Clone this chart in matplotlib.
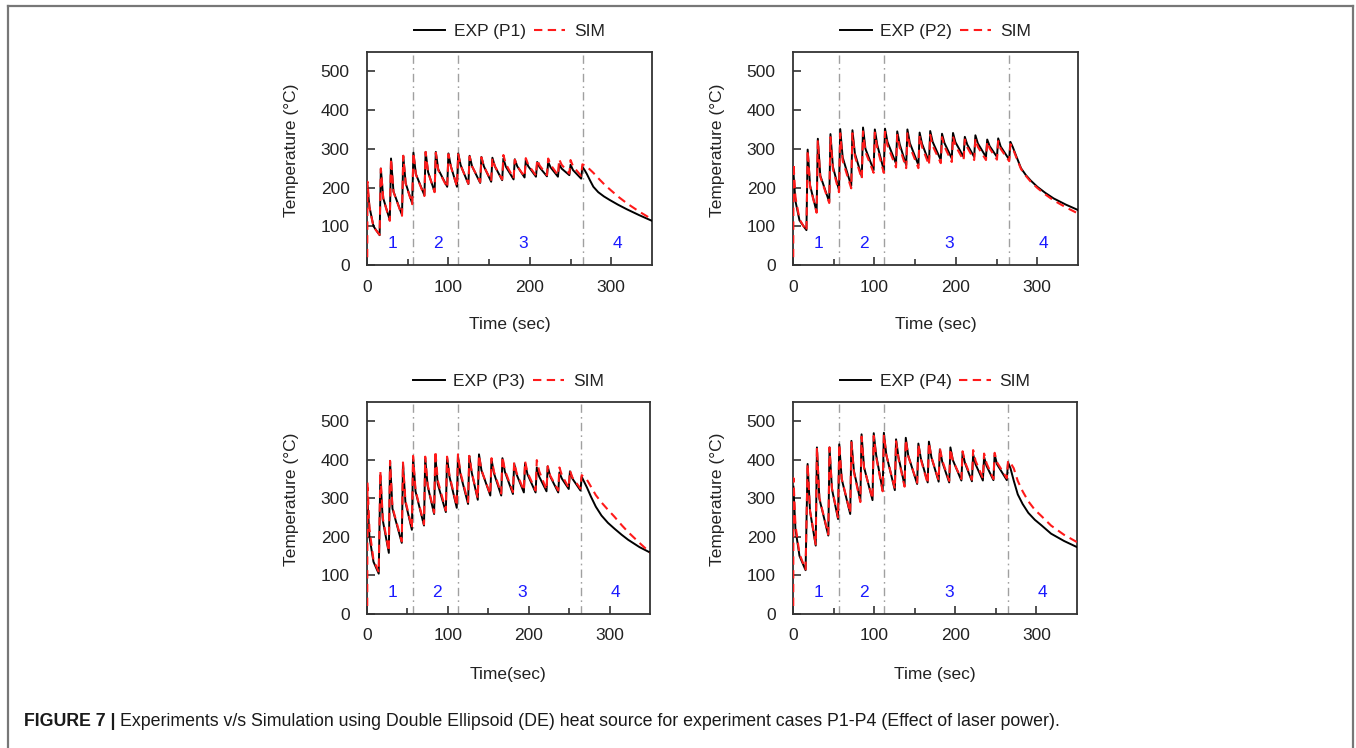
import matplotlib
matplotlib.use('Agg')
import matplotlib.pyplot as plt
from matplotlib.lines import Line2D

plt.rcParams['font.family'] = ['Liberation Sans', 'DejaVu Sans']

# ---------------- data ----------------
cases = ['P1', 'P2', 'P3', 'P4']
xlabels = ['Time (sec)', 'Time (sec)', 'Time(sec)', 'Time (sec)']
zone_lines = [57, 112, 265]
zone_names = ['1', '2', '3', '4']
zone_x = [31, 87, 192, 307]
zone_y = 55
x_ticks = [0, 100, 200, 300]
x_minor = [50, 150, 250]
y_ticks = [0, 100, 200, 300, 400, 500]

# ---- P1 ----
p1_tp = [17, 29.5, 44.5, 57, 72, 84.5, 100, 112, 126, 140.5, 154, 167.5, 181.5, 195, 209, 222.5, 236, 250, 264.5]
p1_exp_start_t = [0.5, 3, 8, 15.5]
p1_exp_start_T = [205, 150, 100, 77]
p1_exp_peak = [249, 275, 282, 290, 292, 292, 288, 288, 282, 279, 277, 275, 273, 271, 266, 266, 260, 259, 253]
p1_exp_knee = [172, 190, 211, 235, 240, 247, 255, 258, 255, 255, 255, 254, 255, 255, 252, 252, 249, 245]
p1_exp_valley = [116, 129, 159, 180, 189, 202, 202, 209, 212, 215, 219, 221, 226, 228, 229, 228, 232, 223]
p1_exp_cool_t = [267, 270, 274, 278, 284, 291, 298, 308, 319, 334, 350]
p1_exp_cool_T = [246, 235, 218, 202, 188, 177, 168, 156, 144, 129, 114]
p1_sim_start_t = [0.3, 0.6, 3, 8, 15.5]
p1_sim_start_T = [20, 215, 150, 98, 78]
p1_sim_peak = [249, 275, 282, 290, 292, 290, 286, 286, 280, 278, 276, 284, 272, 276, 272, 275, 273, 271, 260]
p1_sim_knee = [171, 189, 210, 234, 240, 245, 254, 257, 255, 255, 255, 261, 255, 259, 257, 259, 259, 255]
p1_sim_valley = [114, 127, 157, 178, 188, 200, 203, 210, 214, 217, 221, 224, 228, 231, 232, 232, 236, 230]
p1_sim_cool_t = [268, 272, 278, 285, 292, 300, 310, 320, 335, 350]
p1_sim_cool_T = [257, 250, 238, 222, 207, 192, 174, 158, 137, 118]

# ---- P2 ----
p2_tp = [18, 30.5, 46, 58, 73, 86, 100.5, 113, 128, 140.5, 155.5, 168.5, 183, 196.5, 211, 224, 238.5, 252, 267]
p2_exp_start_t = [0.5, 3, 8, 16.5]
p2_exp_start_T = [240, 165, 115, 90]
p2_exp_peak = [298, 326, 338, 351, 348, 355, 350, 352, 345, 350, 342, 346, 339, 341, 331, 335, 324, 327, 318]
p2_exp_knee = [205, 231, 254, 278, 288, 300, 310, 318, 312, 315, 313, 318, 315, 317, 311, 314, 307, 306]
p2_exp_valley = [137, 163, 193, 204, 228, 245, 245, 262, 258, 258, 266, 271, 275, 279, 279, 279, 279, 272]
p2_exp_cool_t = [270, 274, 280, 286, 292, 300, 310, 320, 335, 350]
p2_exp_cool_T = [304, 282, 250, 232, 218, 202, 186, 172, 156, 142]
p2_sim_start_t = [0.3, 0.6, 3, 8, 16.5]
p2_sim_start_T = [20, 262, 175, 118, 88]
p2_sim_peak = [296, 322, 330, 340, 340, 345, 342, 344, 336, 340, 334, 336, 330, 332, 324, 326, 318, 320, 312]
p2_sim_knee = [203, 228, 248, 269, 281, 292, 302, 309, 303, 306, 305, 308, 306, 308, 304, 305, 301, 300]
p2_sim_valley = [135, 160, 188, 198, 222, 238, 238, 252, 250, 250, 258, 263, 266, 270, 271, 271, 272, 268]
p2_sim_cool_t = [270, 274, 280, 286, 292, 300, 310, 320, 335, 350]
p2_sim_cool_T = [301, 279, 248, 230, 215, 199, 182, 167, 149, 133]

# ---- P3 ----
p3_tp = [16.5, 28.5, 44.5, 57, 72, 84.5, 99, 112.5, 126.5, 138.5, 154, 167.5, 182, 195.5, 210, 223.5, 238, 251, 265.5]
p3_exp_start_t = [0.5, 3, 8, 14.5]
p3_exp_start_T = [300, 200, 135, 104]
p3_exp_peak = [360, 397, 390, 406, 404, 410, 406, 410, 410, 414, 401, 404, 390, 391, 380, 383, 367, 370, 356]
p3_exp_knee = [243, 273, 290, 318, 332, 337, 356, 363, 367, 373, 365, 369, 362, 362, 356, 357, 351, 351]
p3_exp_valley = [158, 184, 218, 229, 259, 264, 275, 285, 296, 307, 307, 311, 315, 315, 318, 315, 324, 320]
p3_exp_cool_t = [268, 272, 277, 283, 290, 298, 306, 315, 323, 337, 350]
p3_exp_cool_T = [345, 328, 304, 278, 255, 236, 221, 205, 192, 173, 159]
p3_sim_start_t = [0.3, 0.6, 3, 8, 14.5]
p3_sim_start_T = [20, 341, 220, 140, 108]
p3_sim_peak = [370, 397, 393, 410, 408, 423, 408, 414, 410, 412, 404, 408, 394, 396, 399, 383, 380, 372, 360]
p3_sim_knee = [249, 276, 294, 321, 335, 346, 359, 367, 368, 373, 369, 373, 366, 367, 370, 359, 360, 354]
p3_sim_valley = [162, 188, 222, 232, 262, 268, 280, 290, 300, 310, 312, 316, 320, 320, 322, 320, 327, 325]
p3_sim_cool_t = [268, 272, 277, 283, 290, 298, 306, 315, 323, 337, 350]
p3_sim_cool_T = [356, 348, 330, 308, 289, 270, 252, 230, 212, 184, 159]

# ---- P4 ----
p4_tp = [18, 29.5, 45, 57, 72, 84.5, 99.5, 112, 127, 139, 154.5, 167.5, 181, 194, 209, 222, 235.5, 248.5, 265]
p4_exp_start_t = [0.5, 3, 8, 15.5]
p4_exp_start_T = [330, 220, 150, 113]
p4_exp_peak = [389, 432, 432, 440, 449, 466, 469, 470, 453, 457, 442, 447, 427, 432, 419, 414, 407, 413, 393]
p4_exp_knee = [266, 299, 324, 350, 372, 381, 412, 413, 407, 411, 404, 407, 394, 399, 391, 388, 384, 388]
p4_exp_valley = [177, 203, 246, 259, 294, 295, 320, 321, 333, 337, 341, 343, 341, 346, 344, 346, 347, 347]
p4_exp_cool_t = [268, 272, 277, 283, 290, 298, 306, 318, 334, 350]
p4_exp_cool_T = [378, 346, 310, 285, 262, 244, 230, 208, 189, 173]
p4_sim_start_t = [0.3, 0.6, 3, 8, 15.5]
p4_sim_start_T = [20, 352, 230, 155, 115]
p4_sim_peak = [389, 432, 432, 440, 445, 460, 462, 465, 448, 452, 440, 444, 430, 428, 422, 425, 416, 418, 397]
p4_sim_knee = [268, 301, 326, 351, 368, 379, 407, 412, 403, 409, 401, 407, 398, 398, 394, 397, 391, 393]
p4_sim_valley = [180, 206, 250, 262, 290, 298, 318, 325, 330, 340, 338, 347, 345, 350, 348, 352, 350, 352]
p4_sim_cool_t = [268, 272, 277, 283, 290, 298, 306, 318, 334, 350]
p4_sim_cool_T = [392, 378, 345, 318, 292, 270, 254, 229, 205, 186]

panels = [
    (p1_tp, (p1_exp_start_t, p1_exp_start_T, p1_exp_peak, p1_exp_knee, p1_exp_valley, p1_exp_cool_t, p1_exp_cool_T),
            (p1_sim_start_t, p1_sim_start_T, p1_sim_peak, p1_sim_knee, p1_sim_valley, p1_sim_cool_t, p1_sim_cool_T)),
    (p2_tp, (p2_exp_start_t, p2_exp_start_T, p2_exp_peak, p2_exp_knee, p2_exp_valley, p2_exp_cool_t, p2_exp_cool_T),
            (p2_sim_start_t, p2_sim_start_T, p2_sim_peak, p2_sim_knee, p2_sim_valley, p2_sim_cool_t, p2_sim_cool_T)),
    (p3_tp, (p3_exp_start_t, p3_exp_start_T, p3_exp_peak, p3_exp_knee, p3_exp_valley, p3_exp_cool_t, p3_exp_cool_T),
            (p3_sim_start_t, p3_sim_start_T, p3_sim_peak, p3_sim_knee, p3_sim_valley, p3_sim_cool_t, p3_sim_cool_T)),
    (p4_tp, (p4_exp_start_t, p4_exp_start_T, p4_exp_peak, p4_exp_knee, p4_exp_valley, p4_exp_cool_t, p4_exp_cool_T),
            (p4_sim_start_t, p4_sim_start_T, p4_sim_peak, p4_sim_knee, p4_sim_valley, p4_sim_cool_t, p4_sim_cool_T)),
]

RISE = 1.5   # seconds between a valley and the next peak
KNEE = 3.0   # seconds after a peak where the knee value was read


def build_curve(tp, series):
    st, sT, peak, knee, valley, ct, cT = series
    t = list(st)
    T = list(sT)
    n = len(tp)
    for i in range(n):
        if i > 0:
            t.append(tp[i] - RISE)
            T.append(valley[i - 1])
        t.append(tp[i])
        T.append(peak[i])
        if i < n - 1:
            t.append(tp[i] + KNEE)
            T.append(knee[i])
    t += list(ct)
    T += list(cT)
    return t, T


# ---------------- figure ----------------
W, H = 1356, 748
fig = plt.figure(figsize=(W / 100, H / 100), dpi=100)

# axes boxes in pixels: left, top, right, bottom
boxes = [(367, 52, 652, 265), (793, 52, 1078, 265),
         (367, 402, 650, 613.7), (793, 402, 1077, 613.7)]

txt_col = '#222222'
fs = 12.5

for k, (box, (tp, exp_s, sim_s)) in enumerate(zip(boxes, panels)):
    l, t_, r, b = box
    ax = fig.add_axes([l / W, 1 - b / H, (r - l) / W, (b - t_) / H])
    for xv in zone_lines:
        ax.axvline(xv, color='#a0a0a0', lw=1.0, dashes=(6, 3, 1.2, 3), zorder=1)
    et, eT = build_curve(tp, exp_s)
    stt, sTT = build_curve(tp, sim_s)
    ax.plot(et, eT, color='black', lw=1.4, zorder=3, label='EXP (%s)' % cases[k])
    ax.plot(stt, sTT, color='#ff1a1a', lw=1.5, dashes=(4, 2.6), zorder=4, label='SIM')
    for name, zx in zip(zone_names, zone_x):
        ax.text(zx, zone_y, name, color='#1a1aff', fontsize=fs, ha='center', va='center')
    ax.set_xlim(0, 350)
    ax.set_ylim(0, 550)
    ax.set_xticks(x_ticks)
    ax.set_xticks(x_minor, minor=True)
    ax.set_yticks(y_ticks)
    ax.tick_params(axis='both', which='major', direction='in', length=6, width=1.2,
                   labelsize=fs, labelcolor=txt_col, color='#333333')
    ax.tick_params(axis='x', which='major', pad=10.5)
    ax.tick_params(axis='y', which='major', pad=12.5)
    ax.tick_params(axis='x', which='minor', direction='in', length=4, width=1.2, color='#333333')
    ax.tick_params(top=False, right=False, which='both')
    for sp in ax.spines.values():
        sp.set_linewidth(1.3)
        sp.set_color('#333333')
    ax.set_xlabel(xlabels[k], fontsize=fs, color=txt_col)
    ax.set_ylabel('Temperature (°C)', fontsize=fs, color=txt_col)
    hgt = b - t_
    ax.xaxis.set_label_coords(0.5, -(317 - 265) / 213 if k < 2 else -(667 - 613.7) / 211.7)
    ax.yaxis.set_label_coords(-(367 - 299) / 285, 0.54)
    leg = ax.legend(loc='center', bbox_to_anchor=(0.5, 1 + 21 / hgt), ncol=2, frameon=False,
                    fontsize=fs, handlelength=1.8, handletextpad=0.5, columnspacing=0.45,
                    borderaxespad=0, borderpad=0)
    for txt in leg.get_texts():
        txt.set_color(txt_col)

# frame lines around the figure (left, top, right)
fcol = '#777777'
fig.add_artist(Line2D([8 / W, 8 / W], [0, 1 - 6 / H], color=fcol, lw=1.6, transform=fig.transFigure))
fig.add_artist(Line2D([8 / W, 1353 / W], [1 - 6 / H, 1 - 6 / H], color=fcol, lw=1.6, transform=fig.transFigure))
fig.add_artist(Line2D([1353 / W, 1353 / W], [0, 1 - 6 / H], color=fcol, lw=1.6, transform=fig.transFigure))

# caption
cap_fam = ['Liberation Sans Narrow', 'Liberation Sans', 'DejaVu Sans']
cap_fs = 12.8
t1 = fig.text(24 / W, 1 - 721 / H, 'FIGURE 7 |', fontsize=cap_fs, weight='bold', family=cap_fam,
              color='#1a1a1a', va='center', ha='left')
fig.canvas.draw()
bb = t1.get_window_extent(renderer=fig.canvas.get_renderer())
fig.text((bb.x1 + 5) / W, 1 - 721 / H,
         'Experiments v/s Simulation using Double Ellipsoid (DE) heat source for experiment cases P1-P4 (Effect of laser power).',
         fontsize=cap_fs, family=cap_fam, color='#1a1a1a', va='center', ha='left')

fig.savefig('out.png', dpi=100)
